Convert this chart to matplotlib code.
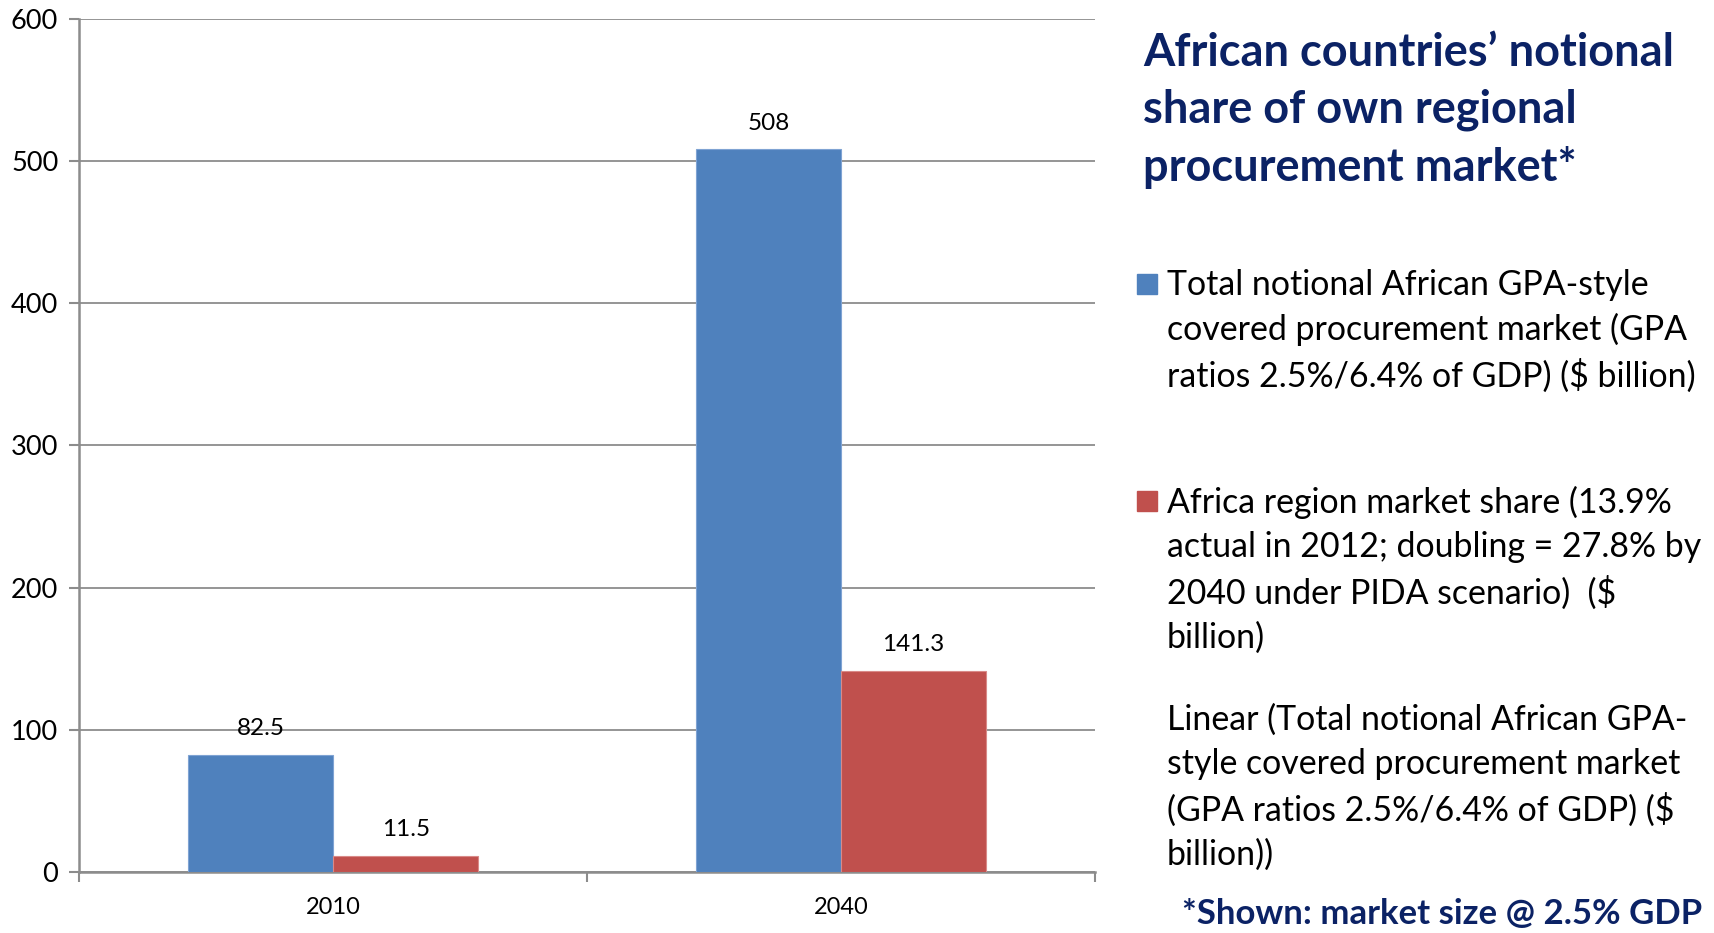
import numpy as np
import matplotlib.pyplot as plt
from matplotlib.patches import Rectangle

# data
years = ['2010', '2040']
total_market = [82.5, 508]
africa_share = [11.5, 141.3]
total_labels = ['82.5', '508']
share_labels = ['11.5', '141.3']

blue = '#4F81BD'
red = '#C0504D'
navy = '#0B2265'
grid_col = '#8C8C8C'

plt.rcParams['font.family'] = ['Lato', 'DejaVu Sans']

fig = plt.figure(figsize=(17.15, 9.33), dpi=100)
ax = fig.add_axes([0.0461, 0.0654, 0.5924, 0.9147])

x = np.arange(len(years))
w = 1 / 3.5
ax.bar(x - w / 2, total_market, w, color=blue, edgecolor='#7FA3D3', linewidth=0.8, zorder=3)
ax.bar(x + w / 2, africa_share, w, color=red, edgecolor='#D98A88', linewidth=0.8, zorder=3)

for i in range(len(years)):
    ax.annotate(total_labels[i], (x[i] - w / 2, total_market[i]), xytext=(0, 19),
                textcoords='offset points', ha='center', va='center', fontsize=17.5)
    ax.annotate(share_labels[i], (x[i] + w / 2, africa_share[i]), xytext=(0, 19),
                textcoords='offset points', ha='center', va='center', fontsize=17.5)

ax.set_xlim(-0.5, 1.5)
ax.set_ylim(0, 600)
ax.set_yticks(range(0, 601, 100))
ax.set_xticks(x)
ax.set_xticklabels(years)
ax.set_xticks([-0.5, 0.5, 1.5], minor=True)
ax.tick_params(axis='x', which='major', length=0, pad=18, labelsize=17)
ax.tick_params(axis='x', which='minor', length=7, width=1.5, color=grid_col)
ax.tick_params(axis='y', length=7, width=1.5, color=grid_col, labelsize=19.5, pad=8)

ax.grid(axis='y', color=grid_col, linewidth=1.3, zorder=0)
ax.set_axisbelow(True)
for s in ['top', 'right']:
    ax.spines[s].set_visible(False)
for s in ['left', 'bottom']:
    ax.spines[s].set_color(grid_col)
    ax.spines[s].set_linewidth(1.8)

# title block on the right
fig.text(1143 / 1715, 1 - 32 / 933,
         'African countries\u2019 notional\nshare of own regional\nprocurement market*',
         ha='left', va='top', fontsize=32.5, fontweight='bold', color=navy, linespacing=1.43)

# legend, built by hand
legend_items = [
    (blue, 'Total notional African GPA-style\ncovered procurement market (GPA\nratios 2.5%/6.4% of GDP) ($ billion)', 284),
    (red, 'Africa region market share (13.9%\nactual in 2012; doubling = 27.8% by\n2040 under PIDA scenario)  ($\nbillion)', 501),
    (None, 'Linear (Total notional African GPA-\nstyle covered procurement market\n(GPA ratios 2.5%/6.4% of GDP) ($\nbillion))', 719),
]
for col, label, ypx in legend_items:
    if col is not None:
        fig.patches.append(Rectangle((1137 / 1715, 1 - (ypx + 10) / 933), 20 / 1715, 20 / 933,
                                     transform=fig.transFigure, color=col))
    fig.text(1167 / 1715, 1 - (ypx - 15) / 933, label, ha='left', va='top',
             fontsize=24.4, color='black', linespacing=1.45)

fig.text(1702 / 1715, 1 - 914 / 933, '*Shown: market size @ 2.5% GDP',
         ha='right', va='center', fontsize=25, fontweight='bold', color=navy)

fig.savefig('out.png', dpi=100)
